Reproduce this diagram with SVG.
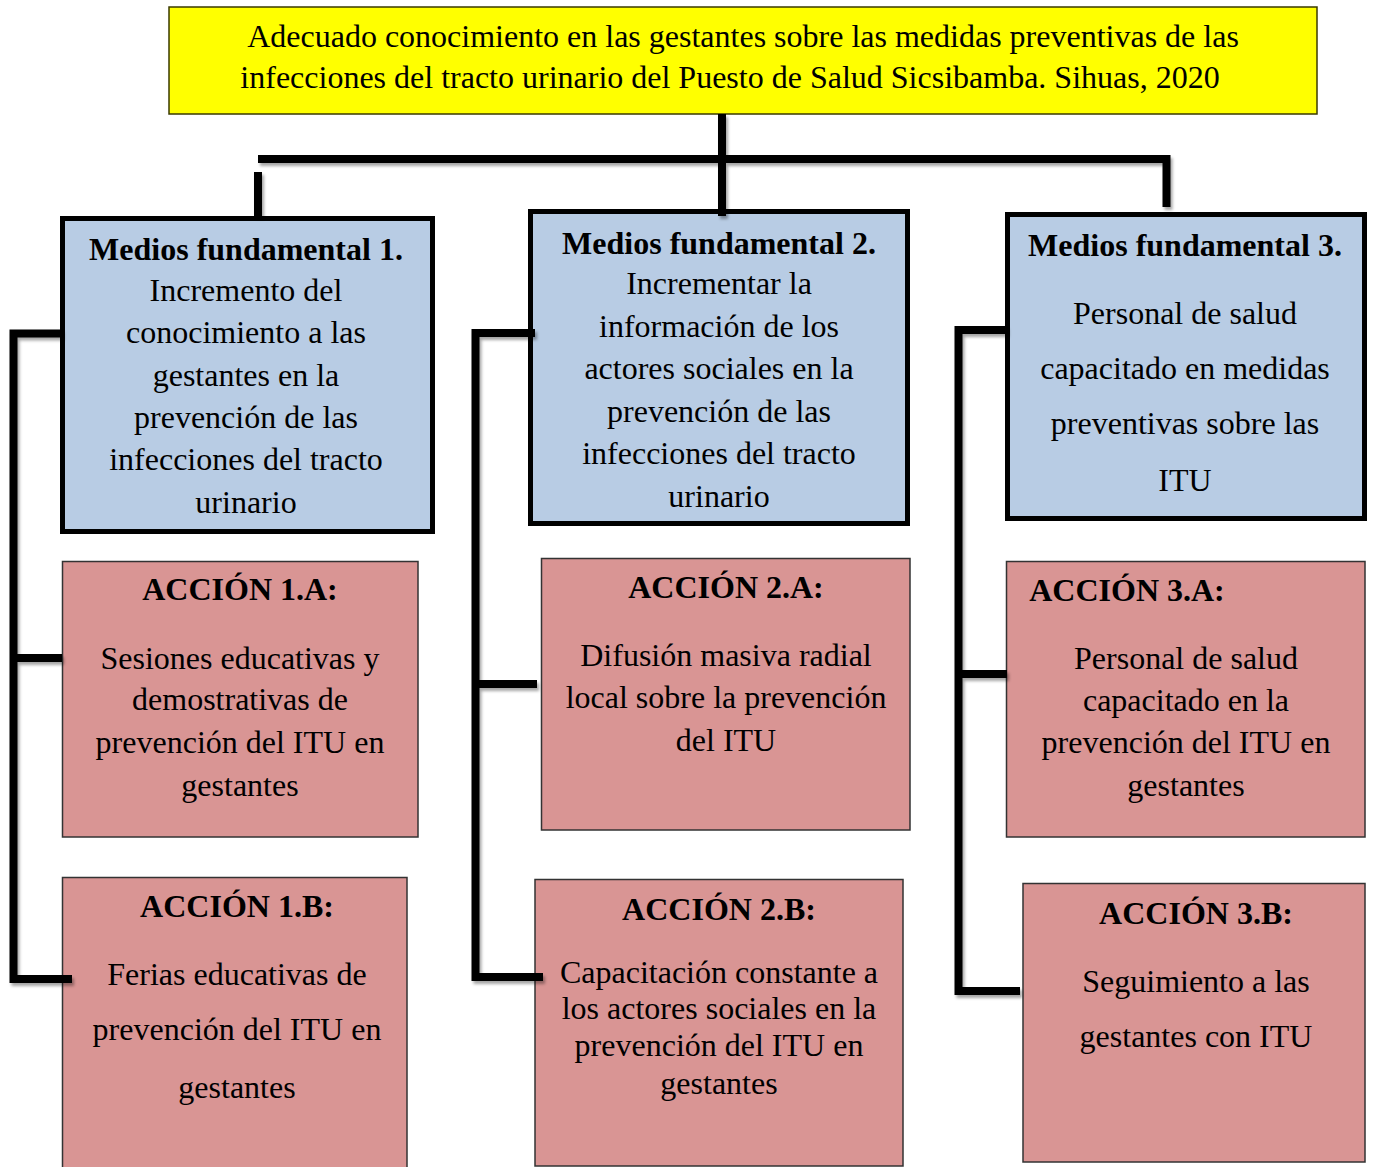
<svg xmlns="http://www.w3.org/2000/svg" width="1373" height="1167" viewBox="0 0 1373 1167">
<defs>
<filter id="sh" x="-20%" y="-20%" width="140%" height="140%">
<feDropShadow dx="2" dy="3" stdDeviation="1.5" flood-color="#000" flood-opacity="0.35"/>
</filter>
<style>
text{font-family:"Liberation Serif","Times New Roman",serif;fill:#000;text-anchor:middle}
.t{font-size:32px}
.h{font-size:32px;font-weight:bold}
.b{font-size:32px}
.goal{fill:#FFFF00;stroke:#3a3a00;stroke-width:1.5}
.mf{fill:#B8CCE4;stroke:#000;stroke-width:5}
.ac{fill:#D99594;stroke:#333;stroke-width:1.5}
.cn{fill:none;stroke:#000;stroke-width:8;stroke-linejoin:miter;stroke-linecap:butt}
</style>
</defs>
<rect width="1373" height="1167" fill="#fff"/>

<g id="goal">
<rect class="goal" x="169" y="7" width="1148" height="107"/>
<text class="t" x="743" y="47">Adecuado conocimiento en las gestantes sobre las medidas preventivas de las</text>
<text class="t" x="730" y="88">infecciones del tracto urinario del Puesto de Salud Sicsibamba. Sihuas, 2020</text>
</g>

<g id="mf1">
<rect class="mf" x="62.5" y="218.5" width="370" height="313"/>
<text class="h" x="246" y="260">Medios fundamental 1.</text>
<text class="b" x="246" y="301">Incremento del</text>
<text class="b" x="246" y="343">conocimiento a las</text>
<text class="b" x="246" y="386">gestantes en la</text>
<text class="b" x="246" y="428">prevención de las</text>
<text class="b" x="246" y="470">infecciones del tracto</text>
<text class="b" x="246" y="513">urinario</text>
</g>

<g id="mf2">
<rect class="mf" x="530.5" y="211.5" width="377" height="312"/>
<text class="h" x="719" y="254">Medios fundamental 2.</text>
<text class="b" x="719" y="294">Incrementar la</text>
<text class="b" x="719" y="337">información de los</text>
<text class="b" x="719" y="379">actores sociales en la</text>
<text class="b" x="719" y="422">prevención de las</text>
<text class="b" x="719" y="464">infecciones del tracto</text>
<text class="b" x="719" y="507">urinario</text>
</g>

<g id="mf3">
<rect class="mf" x="1007.5" y="214.5" width="357" height="304"/>
<text class="h" x="1185" y="256">Medios fundamental 3.</text>
<text class="b" x="1185" y="324">Personal de salud</text>
<text class="b" x="1185" y="379">capacitado en medidas</text>
<text class="b" x="1185" y="434">preventivas sobre las</text>
<text class="b" x="1185" y="491">ITU</text>
</g>

<g id="a1a">
<rect class="ac" x="62.5" y="561.5" width="355.5" height="275.5"/>
<text class="h" x="240" y="600">ACCIÓN 1.A:</text>
<text class="b" x="240" y="669">Sesiones educativas y</text>
<text class="b" x="240" y="710">demostrativas de</text>
<text class="b" x="240" y="753">prevención del ITU en</text>
<text class="b" x="240" y="796">gestantes</text>
</g>

<g id="a1b">
<rect class="ac" x="62.5" y="877.5" width="344.5" height="295"/>
<text class="h" x="237" y="917">ACCIÓN 1.B:</text>
<text class="b" x="237" y="985">Ferias educativas de</text>
<text class="b" x="237" y="1040">prevención del ITU en</text>
<text class="b" x="237" y="1098">gestantes</text>
</g>

<g id="a2a">
<rect class="ac" x="541.5" y="558.5" width="368.5" height="271.5"/>
<text class="h" x="726" y="598">ACCIÓN 2.A:</text>
<text class="b" x="726" y="666">Difusión masiva radial</text>
<text class="b" x="726" y="708">local sobre la prevención</text>
<text class="b" x="726" y="751">del ITU</text>
</g>

<g id="a2b">
<rect class="ac" x="535" y="879.5" width="368" height="286.5"/>
<text class="h" x="719" y="920">ACCIÓN 2.B:</text>
<text class="b" x="719" y="983">Capacitación constante a</text>
<text class="b" x="719" y="1019">los actores sociales en la</text>
<text class="b" x="719" y="1056">prevención del ITU en</text>
<text class="b" x="719" y="1094">gestantes</text>
</g>

<g id="a3a">
<rect class="ac" x="1006.5" y="561.5" width="358.5" height="275.5"/>
<text class="h" x="1127" y="601">ACCIÓN 3.A:</text>
<text class="b" x="1186" y="669">Personal de salud</text>
<text class="b" x="1186" y="711">capacitado en la</text>
<text class="b" x="1186" y="753">prevención del ITU en</text>
<text class="b" x="1186" y="796">gestantes</text>
</g>

<g id="a3b">
<rect class="ac" x="1023" y="883.5" width="342" height="278.5"/>
<text class="h" x="1196" y="924">ACCIÓN 3.B:</text>
<text class="b" x="1196" y="992">Seguimiento a las</text>
<text class="b" x="1196" y="1047">gestantes con ITU</text>
</g>

<g id="connectors" filter="url(#sh)">
<path class="cn" d="M722 114 V216"/>
<path class="cn" d="M258 159 H1166.5 V207"/>
<path class="cn" d="M258 172 V216"/>
<path class="cn" d="M62 333.5 H13.5 V979 H72"/>
<path class="cn" d="M13.5 658 H62"/>
<path class="cn" d="M535 333 H475.5 V977 H543"/>
<path class="cn" d="M475.5 684 H537"/>
<path class="cn" d="M1007 330 H958.5 V991 H1020"/>
<path class="cn" d="M958.5 674 H1007"/>
</g>
</svg>
